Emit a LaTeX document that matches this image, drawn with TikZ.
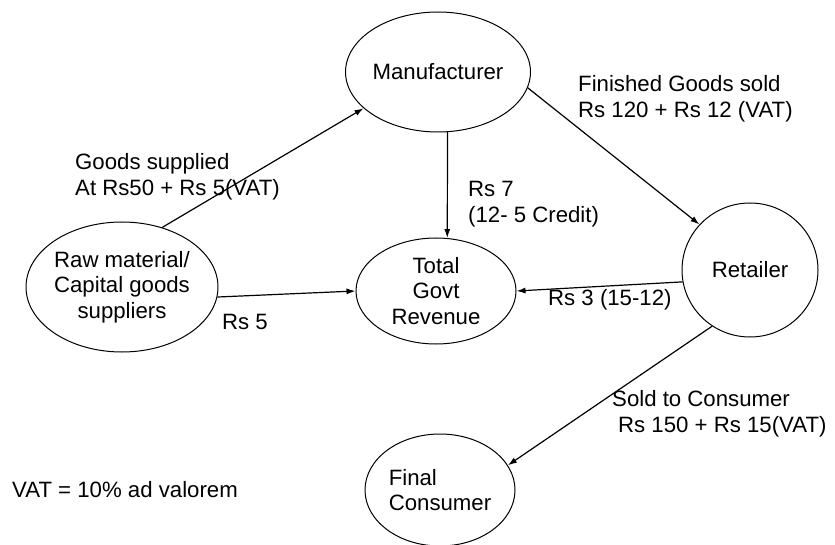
\documentclass[tikz,border=0pt]{standalone}
\usepackage{fontspec}
\setmainfont{Liberation Sans}
\usetikzlibrary{shapes.geometric,arrows.meta}
\begin{document}
\begin{tikzpicture}[x=1pt,y=-1pt,
  font=\fontsize{22.2}{25.5}\selectfont,
  oval/.style={draw,ellipse,line width=1pt,inner sep=0pt,align=center},
  lbl/.style={anchor=west,align=left,inner sep=0pt},
  flow/.style={line width=1.2pt,-{Latex[length=9pt,width=6pt]}}]
\useasboundingbox (0,0) rectangle (835,545);
\node[oval,minimum width=144pt,minimum height=120pt] (man) at (438,72) {\raisebox{-5pt}{Manufacturer}};
\node[oval,minimum width=140pt,minimum height=130pt] (raw) at (122,287) {Raw material/\\Capital goods\\suppliers};
\node[oval,minimum width=160pt,minimum height=106pt] (total) at (436,291) {Total\\Govt\\Revenue};
\node[oval,minimum width=136pt,minimum height=134pt] (ret) at (750,270) {Retailer};
\node[oval,minimum width=150pt,minimum height=112pt,align=left] (final) at (440,490) {Final\\Consumer};
\draw[flow] (raw.56) -- (man.206);
\draw[flow] (raw.-6) -- (total.180);
\draw[flow] (man.-81) -- (total.78);
\draw[flow] (man.-10) -- (ret.138);
\draw[flow] (ret.190) -- (total.0);
\draw[flow] (ret.236) -- (final.20);
\node[lbl] (l1) at (75,177) {Goods supplied\\At Rs50 + Rs 5(VAT)};
\node[lbl] (l2) at (468,204) {Rs 7\\(12- 5 Credit)};
\node[lbl] (l3) at (578,99) {Finished Goods sold\\Rs 120 + Rs 12 (VAT)};
\node[lbl] (l4) at (222,322) {Rs 5};
\node[lbl] (l5) at (548,300) {Rs 3 (15-12)};
\node[lbl] (l6) at (612,414) {Sold to Consumer\\\hspace*{6pt}Rs 150 + Rs 15(VAT)};
\node[lbl] (l7) at (12,490) {VAT = 10\% ad valorem};
\end{tikzpicture}
\end{document}
